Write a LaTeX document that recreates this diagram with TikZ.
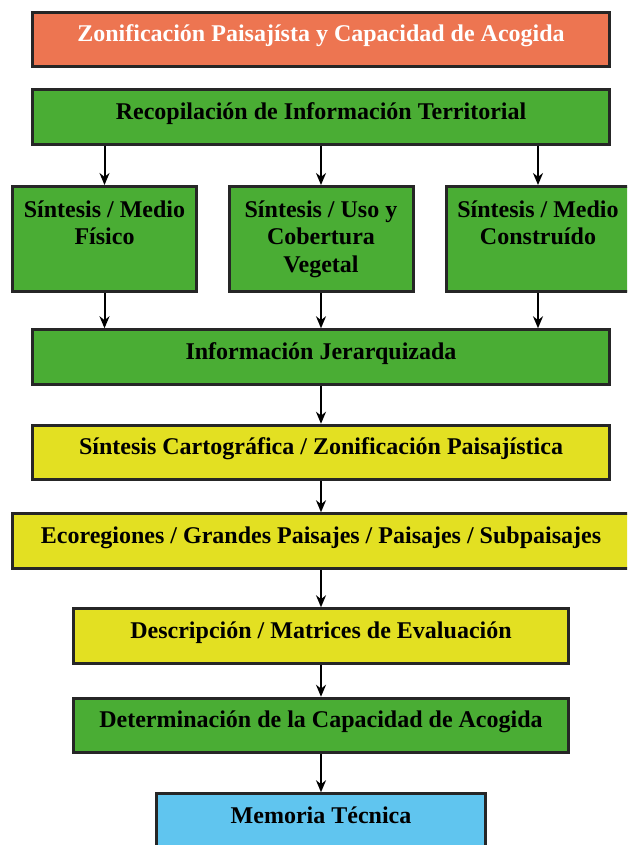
\documentclass[tikz,border=0pt]{standalone}
\usepackage{fontspec}
\setmainfont{Liberation Serif}
\usetikzlibrary{arrows.meta}
\definecolor{naranja}{RGB}{237,117,81}
\definecolor{verde}{RGB}{74,173,52}
\definecolor{amarillo}{RGB}{227,224,34}
\definecolor{celeste}{RGB}{96,197,239}
\begin{document}
\begin{tikzpicture}[x=1pt,y=-1pt]
            \tikzstyle{caja}=[draw=black!85,line width=3pt,inner sep=0pt,align=flush center,font=\fontsize{24}{27.5}\selectfont\bfseries,text height=29.5pt,text depth=25pt]
            \tikzstyle{sintesis}=[caja,fill=verde,text width=184pt,text height=30.5pt,text depth=74.5pt]
            \tikzstyle{flecha}=[line width=2pt,-{Stealth[length=12pt,width=10pt]}]
            \useasboundingbox (0,0) rectangle (627,845);
            \clip (0,0) rectangle (627,845);
            \node[caja,fill=naranja,text=white,minimum width=577pt] (1) at (321,39.5) {Zonificación Paisajísta y Capacidad de Acogida};
            \node[caja,fill=verde,minimum width=577pt] (2) at (321,117) {Recopilación de Información Territorial};
            \node[sintesis] (3) at (104.5,239) {Síntesis / Medio\\Físico};
            \node[sintesis] (4) at (321,239) {Síntesis / Uso y\\Cobertura\\Vegetal};
            \node[sintesis] (5) at (538,239) {Síntesis / Medio\\Construído};
            \node[caja,fill=verde,minimum width=577pt] (6) at (321,357) {Información Jerarquizada};
            \node[caja,fill=amarillo,minimum width=577pt] (7) at (321,452.5) {Síntesis Cartográfica / Zonificación Paisajística};
            \node[caja,fill=amarillo,minimum width=617pt] (8) at (321,541) {Ecoregiones / Grandes Paisajes / Paisajes / Subpaisajes};
            \node[caja,fill=amarillo,minimum width=495pt] (9) at (321,636) {Descripción / Matrices de Evaluación};
            \node[caja,fill=verde,minimum width=495pt] (10) at (321,725.5) {Determinación de la Capacidad de Acogida};
            \node[caja,fill=celeste,minimum width=329pt] (11) at (321,821) {Memoria Técnica};
            \draw[flecha] (2.south -| 3.north) -- (3.north);
            \draw[flecha] (2.south -| 4.north) -- (4.north);
            \draw[flecha] (2.south -| 5.north) -- (5.north);
            \draw[flecha] (3.south) -- (3.south |- 6.north);
            \draw[flecha] (4.south) -- (4.south |- 6.north);
            \draw[flecha] (5.south) -- (5.south |- 6.north);
            \draw[flecha] (6) -- (7);
            \draw[flecha] (7) -- (8);
            \draw[flecha] (8) -- (9);
            \draw[flecha] (9) -- (10);
            \draw[flecha] (10) -- (11);
        \end{tikzpicture}
\end{document}
